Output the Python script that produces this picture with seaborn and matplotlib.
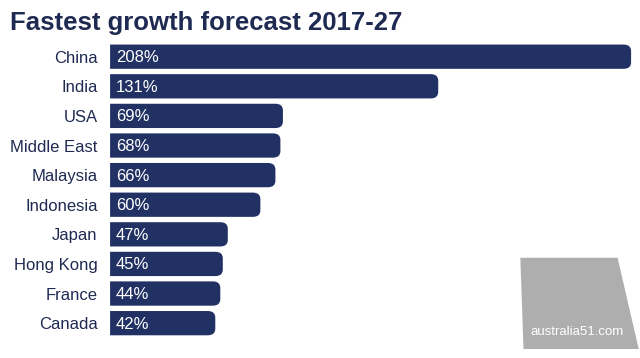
import matplotlib
matplotlib.use("Agg")
import matplotlib.pyplot as plt
import seaborn as sns
import pandas as pd
from matplotlib.path import Path
from matplotlib.patches import PathPatch, Polygon

countries = ["China", "India", "USA", "Middle East", "Malaysia", "Indonesia",
             "Japan", "Hong Kong", "France", "Canada"]
growth = [208, 131, 69, 68, 66, 60, 47, 45, 44, 42]

NAVY = "#213163"
TEXT = "#1f2a52"

sns.set_theme(style="white")
plt.rcParams["font.family"] = ["Liberation Sans", "DejaVu Sans"]

df = pd.DataFrame({"country": countries, "growth": growth})

fig = plt.figure(figsize=(6.4, 3.58), dpi=100)
ax = fig.add_axes([0.172, 0.056, 0.818, 0.827])
sns.barplot(data=df, x="growth", y="country", color=NAVY, width=0.82,
            saturation=1, ax=ax)


def rounded_right(x0, y0, w, h, rx=3.0, ry=0.22):
    # flat left edge, rounded right corners (y axis is inverted, so y0 < y1)
    x1, y1 = x0 + w, y0 + h
    verts = [(x0, y0), (x1 - rx, y0), (x1, y0), (x1, y0 + ry),
             (x1, y1 - ry), (x1, y1), (x1 - rx, y1), (x0, y1), (x0, y0)]
    codes = [Path.MOVETO, Path.LINETO, Path.CURVE3, Path.CURVE3,
             Path.LINETO, Path.CURVE3, Path.CURVE3, Path.LINETO,
             Path.CLOSEPOLY]
    return PathPatch(Path(verts, codes), fc=NAVY, ec="none")


for p in list(ax.patches):
    x0, y0 = p.get_x(), p.get_y()
    w, h = p.get_width(), p.get_height()
    p.set_visible(False)
    ax.add_patch(rounded_right(x0, y0, w, h))
    ax.text(x0 + 2.3, y0 + h / 2 + 0.03, f"{w:.0f}%", color="white",
            fontsize=12, va="center", ha="left", zorder=5)

ax.set_xlim(0, 209)
ax.set_ylim(9.5, -0.5)
ax.set_xlabel("")
ax.set_ylabel("")
ax.set_xticks([])
ax.tick_params(axis="y", length=0, pad=9, labelsize=12, labelcolor=TEXT)
sns.despine(ax=ax, left=True, bottom=True)

fig.text(0.016, 0.915, "Fastest growth forecast 2017-27", fontsize=18.5,
         fontweight="bold", color=TEXT, ha="left", va="baseline")

# watermark
fig.patches.append(Polygon([(0.813, 0.28), (0.965, 0.28), (0.998, 0.025),
                            (0.818, 0.025)], closed=True,
                           transform=fig.transFigure, fc="#aaaaaa",
                           ec="none", alpha=0.95))
fig.text(0.902, 0.065, "australia51.com", fontsize=9.5, color="white",
         ha="center", va="baseline")

fig.savefig("out.png", dpi=100, facecolor="white")
